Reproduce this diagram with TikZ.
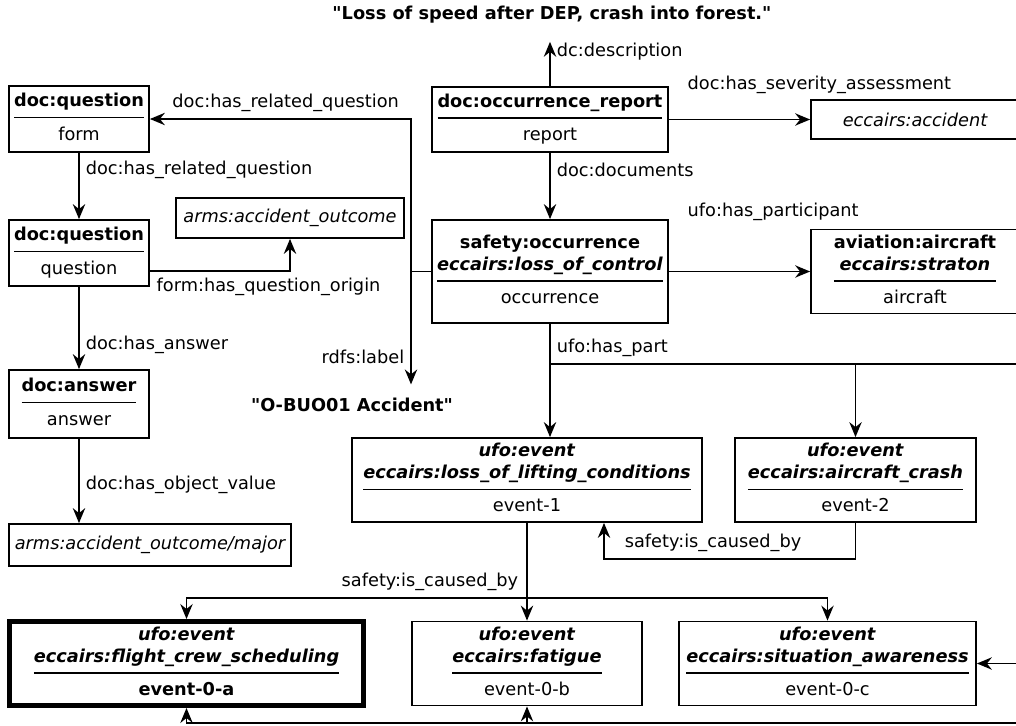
\documentclass[tikz,border=0pt]{standalone}
\usepackage{fontspec}
\setmainfont{DejaVu Sans}
\usetikzlibrary{arrows.meta, positioning, calc}
\setlength{\arrayrulewidth}{0.8pt}
% class header over a rule, instance name below
\newcommand{\ent}[2]{\begin{tabular}{@{}c@{}}#1\\[2pt]\hline\rule{0pt}{12.5pt}#2\end{tabular}}
\newcommand{\cls}[1]{\textbf{#1}}
\newcommand{\kind}[1]{\textbf{\textit{#1}}}
\newcommand{\lit}[1]{\textquotedbl#1\textquotedbl}
\tikzset{
  entbox/.style={rectangle, draw, line width=1pt, inner xsep=2pt, inner ysep=2pt,
                 align=center, font=\fontsize{10.1}{12.4}\selectfont},
  valbox/.style={entbox, font=\fontsize{10.1}{12.4}\selectfont\itshape},
  keybox/.style={entbox, line width=2.8pt},
  literal/.style={font=\fontsize{10.1}{12.4}\selectfont\bfseries},
  lbl/.style={font=\fontsize{10.1}{12.4}\selectfont},
  rel/.style={-{Stealth[length=8.5pt, width=7pt, inset=2.8pt]}, line width=1.1pt},
  link/.style={line width=1.1pt},
}

\begin{document}
\begin{tikzpicture}
  \useasboundingbox (0,0) rectangle (20.32,-14.52);
  % literals
  \node[literal] (desc) at (11.04,-0.30) {\lit{Loss of speed after DEP, crash into forest.}};
  \node[literal] (lit) at (7.04,-8.10) {\lit{O-BUO01 Accident}};
  % question form
  \node[entbox, minimum width=2.8cm, minimum height=1.32cm] (qform) at (1.58,-2.38) {\ent{\cls{doc:question}}{form}};
  \node[entbox, minimum width=2.8cm, minimum height=1.32cm] (qquest) at (1.58,-5.06) {\ent{\cls{doc:question}}{question}};
  \node[entbox, minimum width=2.8cm, minimum height=1.36cm] (answer) at (1.58,-8.08) {\ent{\cls{doc:answer}}{answer}};
  \node[valbox, minimum width=4.56cm, minimum height=0.80cm] (outcome) at (5.80,-4.36) {arms:accident\_outcome};
  \node[valbox, minimum width=5.64cm, minimum height=0.84cm] (major) at (3.00,-10.90) {arms:accident\_outcome/major};
  % report and occurrence
  \node[entbox, minimum width=4.72cm, minimum height=1.30cm] (report) at (11.00,-2.39) {\ent{\cls{doc:occurrence\_report}}{report}};
  \node[valbox, minimum width=4.16cm, minimum height=0.78cm] (accident) at (18.30,-2.39) {eccairs:accident};
  \node[entbox, minimum width=4.72cm, minimum height=2.06cm] (occ) at (11.00,-5.43) {\ent{\cls{safety:occurrence}\\\kind{eccairs:loss\_of\_control}}{occurrence}};
  \node[entbox, minimum width=4.16cm, minimum height=1.66cm] (aircraft) at (18.30,-5.43) {\ent{\cls{aviation:aircraft}\\\kind{eccairs:straton}}{aircraft}};
  % events
  \node[entbox, minimum width=7.00cm, minimum height=1.68cm] (ev1) at (10.54,-9.60) {\ent{\kind{ufo:event}\\\kind{eccairs:loss\_of\_lifting\_conditions}}{event-1}};
  \node[entbox, minimum width=4.82cm, minimum height=1.68cm] (ev2) at (17.11,-9.60) {\ent{\kind{ufo:event}\\\kind{eccairs:aircraft\_crash}}{event-2}};
  \node[keybox, minimum width=7.08cm, minimum height=1.68cm] (ev0a) at (3.73,-13.27) {\ent{\kind{ufo:event}\\\kind{eccairs:flight\_crew\_scheduling}}{\textbf{event-0-a}}};
  \node[entbox, minimum width=4.60cm, minimum height=1.68cm] (ev0b) at (10.54,-13.27) {\ent{\kind{ufo:event}\\\kind{eccairs:fatigue}}{event-0-b}};
  \node[entbox, minimum width=5.94cm, minimum height=1.68cm] (ev0c) at (16.55,-13.27) {\ent{\kind{ufo:event}\\\kind{eccairs:situation\_awareness}}{event-0-c}};

  % report links
  \draw[rel, shorten >=0.24cm] (report.north) -- node[lbl, right, pos=0.62] {dc:description} (report.north |- desc.south);
  \draw[rel] (report) -- node[lbl, at start, anchor=south west, xshift=0.24cm, yshift=0.38cm] {doc:has\_severity\_assessment} (accident);
  \draw[rel] (report) -- node[lbl, right, pos=0.25] {doc:documents} (occ);
  \draw[rel] (occ) -- node[lbl, at start, anchor=south west, xshift=0.24cm, yshift=0.88cm] {ufo:has\_participant} (aircraft);
  % label and related question
  \coordinate (jn) at (8.22,-5.43);
  \draw[rel] (occ.west) -- (jn) |- node[lbl, above, pos=0.74] {doc:has\_related\_question} (qform.east);
  \draw[rel, shorten >=0.15cm] (occ.west) -- (jn) -- node[lbl, left, pos=0.71] {rdfs:label} (jn |- lit.north);
  % question chain
  \draw[rel] (qform) -- node[lbl, right, pos=0.25] {doc:has\_related\_question} (qquest);
  \draw[rel] ([yshift=-0.36cm]qquest.east) -| node[lbl, at start, anchor=north west] {form:has\_question\_origin} (outcome.south);
  \draw[rel] (qquest) -- node[lbl, right, pos=0.70] {doc:has\_answer} (answer);
  \draw[rel] (answer.south) -- node[lbl, right, pos=0.55] {doc:has\_object\_value} (answer.south |- major.north);
  % parts
  \coordinate (hp) at (11.00,-7.28);
  \coordinate (edgeA) at (20.80,-7.28);
  \draw[rel] (occ.south) -- (occ.south |- ev1.north);
  \draw[link] (hp) -- node[lbl, at start, anchor=south west] {ufo:has\_part} (edgeA);
  \draw[rel] (hp -| ev2.north) -- (ev2.north);
  % causes
  \coordinate (lp) at (12.08,-11.18);
  \draw[rel] (ev2.south) |- (lp) -- node[lbl, at start, anchor=south west, xshift=0.28cm] {safety:is\_caused\_by} (lp |- ev1.south);
  \coordinate (cb) at (10.54,-11.96);
  \draw[rel] (ev1.south) -- (ev0b.north);
  \draw[rel] (cb) -| node[lbl, at start, anchor=south east, xshift=-0.04cm] {safety:is\_caused\_by} (ev0a.north);
  \draw[rel] (cb) -| (ev0c.north);
  % from the right
  \coordinate (edgeB) at (20.80,-13.27);
  \coordinate (edgeC) at (20.80,-14.46);
  \draw[rel] (edgeB) -- (ev0c.east);
  \draw[rel] (edgeC) -| (ev0a.south);
  \draw[rel] (edgeC -| ev0b.south) -- (ev0b.south);
\end{tikzpicture}
\end{document}
